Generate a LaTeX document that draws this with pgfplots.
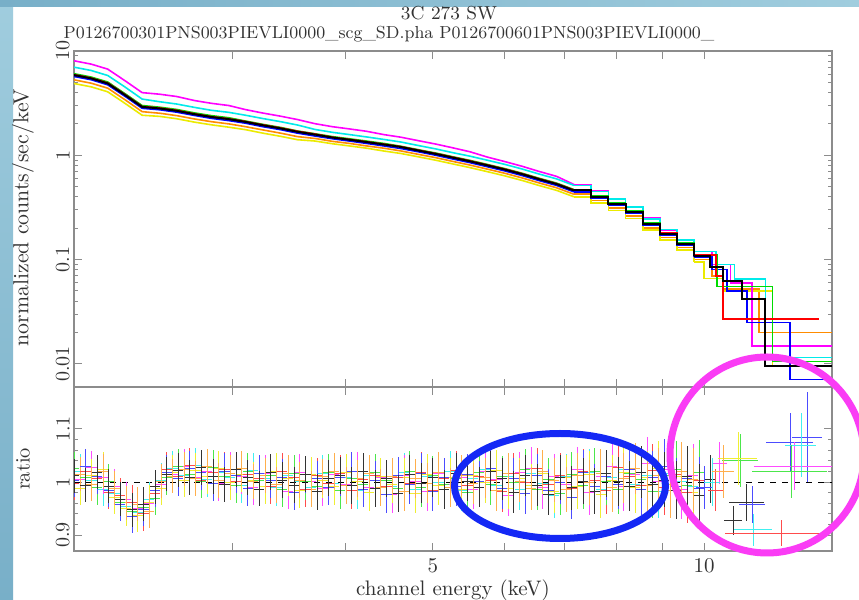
\documentclass[border=0pt]{standalone}
\usepackage{pgfplots}
\pgfplotsset{compat=1.18}
\usepackage{pgfplotstable}

\definecolor{pgK}{RGB}{0,0,0}
\definecolor{pgR}{RGB}{255,0,0}
\definecolor{pgG}{RGB}{0,220,0}
\definecolor{pgB}{RGB}{0,0,255}
\definecolor{pgC}{RGB}{0,235,235}
\definecolor{pgM}{RGB}{255,0,255}
\definecolor{pgY}{RGB}{235,235,0}
\definecolor{pgO}{RGB}{255,140,0}
\colorlet{rtK}{pgK!80!white}
\colorlet{rtR}{pgR!70!white}
\colorlet{rtG}{pgG!70!white}
\colorlet{rtB}{pgB!70!white}
\colorlet{rtC}{pgC!75!white}
\colorlet{rtM}{pgM!70!white}
\colorlet{rtY}{pgY!80!white}
\colorlet{rtO}{pgO!70!white}
\definecolor{bgblue}{RGB}{120,175,200}
\definecolor{bglight}{RGB}{160,205,222}
\definecolor{ellblue}{RGB}{20,40,245}
\definecolor{ellmag}{RGB}{250,60,245}
\definecolor{framegray}{RGB}{140,140,140}

\pgfplotstableread{
E     k     r     g     b     c     m     y     o
2.00  5.88  5.94  6.06  5.70  7.00  8.06  4.88  5.29
2.09  5.46  5.51  5.62  5.30  6.50  7.48  4.53  4.91
2.18  4.89  4.94  5.04  4.74  5.82  6.70  4.06  4.40
2.28  3.77  3.81  3.88  3.66  4.49  5.16  3.13  3.39
2.38  2.91  2.94  3.00  2.82  3.46  3.99  2.42  2.62
2.49  2.81  2.84  2.89  2.73  3.26  3.85  2.36  2.53
2.60  2.67  2.70  2.75  2.59  3.10  3.66  2.24  2.40
2.72  2.48  2.50  2.55  2.41  2.88  3.35  2.08  2.23
2.84  2.33  2.35  2.40  2.26  2.70  3.15  1.96  2.10
2.97  2.22  2.24  2.29  2.15  2.58  3.00  1.86  2.00
3.10  2.09  2.11  2.13  2.03  2.42  2.74  1.76  1.88
3.24  1.94  1.96  1.98  1.88  2.25  2.54  1.63  1.75
3.39  1.81  1.83  1.85  1.76  2.10  2.37  1.52  1.63
3.54  1.68  1.70  1.71  1.63  1.95  2.20  1.41  1.51
3.70  1.58  1.60  1.61  1.53  1.77  2.01  1.37  1.45
3.87  1.48  1.49  1.51  1.44  1.66  1.88  1.29  1.36
4.04  1.41  1.42  1.44  1.37  1.58  1.79  1.23  1.30
4.22  1.34  1.35  1.37  1.30  1.50  1.70  1.17  1.23
4.41  1.27  1.28  1.30  1.23  1.42  1.58  1.10  1.17
4.61  1.20  1.21  1.22  1.16  1.34  1.49  1.04  1.10
4.82  1.11  1.12  1.13  1.08  1.24  1.38  0.966 1.02
5.04  1.03  1.04  1.05  1.00  1.15  1.28  0.896 0.948
5.26  0.95  0.960 0.969 0.922 1.06  1.18  0.827 0.874
5.50  0.875 0.884 0.893 0.849 0.980 1.08  0.761 0.805
5.75  0.80  0.808 0.816 0.776 0.896 0.960 0.696 0.736
6.01  0.73  0.737 0.745 0.708 0.818 0.870 0.635 0.672
6.28  0.66  0.667 0.673 0.640 0.739 0.785 0.574 0.607
6.56  0.59  0.596 0.602 0.572 0.661 0.700 0.513 0.543
6.86  0.53  0.535 0.541 0.514 0.594 0.628 0.461 0.488
7.17  0.46  0.465 0.469 0.446 0.515 0.525 0.400 0.423
7.49  0.40  0.404 0.408 0.388 0.448 0.455 0.348 0.368
7.83  0.34  0.343 0.347 0.330 0.381 0.386 0.296 0.313
8.18  0.285 0.288 0.291 0.276 0.319 0.322 0.248 0.262
8.55  0.22  0.222 0.224 0.213 0.246 0.249 0.191 0.202
8.93  0.177 0.179 0.181 0.172 0.195 0.193 0.154 0.163
9.33  0.141 0.142 0.144 0.137 0.155 0.154 0.123 0.130
9.75  0.109 0.110 0.111 0.106 0.120 0.119 0.095 0.100
}\tabT

\pgfplotstableread{
E     ey    k     r     g     b
2.000 0.032 1.012 0.998 1.025 1.004
2.060 0.032 0.994 1.021 1.008 1.030
2.122 0.032 1.018 1.006 0.989 1.010
2.185 0.032 0.992 0.981 1.002 0.985
2.251 0.032 0.968 0.975 0.962 0.958
2.319 0.032 0.948 0.962 0.944 0.935
2.388 0.032 0.958 0.940 0.952 0.949
2.460 0.032 0.991 0.978 0.969 0.984
2.534 0.032 1.015 1.024 1.008 1.019
2.610 0.032 1.022 1.010 1.030 1.006
2.688 0.033 1.008 1.031 1.015 1.026
2.768 0.033 1.027 1.004 1.002 1.018
2.852 0.033 1.011 1.019 1.028 0.997
2.937 0.033 0.996 1.023 1.010 1.021
3.025 0.033 1.024 1.002 0.993 1.012
3.116 0.033 1.009 1.015 1.021 0.988
3.209 0.033 0.987 1.007 1.004 1.017
3.306 0.034 1.018 0.992 1.013 1.003
3.405 0.034 1.003 1.021 0.986 1.009
3.507 0.034 0.994 1.008 1.017 0.981
3.612 0.034 1.015 0.986 1.001 1.014
3.721 0.034 0.982 1.012 0.992 1.006
3.832 0.034 1.007 0.998 1.019 0.990
3.947 0.035 1.012 1.016 0.985 1.008
4.066 0.035 0.993 0.984 1.006 1.021
4.188 0.035 1.020 1.005 0.996 0.987
4.313 0.035 0.988 1.013 1.018 1.004
4.443 0.035 1.006 0.991 1.003 0.976
4.576 0.035 0.979 1.008 0.988 1.012
4.713 0.037 1.014 0.997 1.021 0.995
4.855 0.037 0.998 1.019 0.990 1.017
5.000 0.037 1.009 0.985 1.012 0.983
5.150 0.037 0.986 1.006 0.995 1.008
5.305 0.037 1.017 1.022 1.007 0.991
5.464 0.038 1.002 0.993 0.981 1.015
5.628 0.038 0.990 1.011 1.018 1.002
5.797 0.038 1.021 1.004 0.995 1.026
5.971 0.039 1.006 0.982 1.010 0.988
6.150 0.039 0.981 1.016 0.999 1.007
6.334 0.039 1.012 1.000 1.024 0.979
6.524 0.040 0.994 1.025 0.987 1.013
6.720 0.040 0.977 0.996 1.005 0.984
6.922 0.042 1.008 1.012 0.979 1.000
7.129 0.042 0.989 0.988 1.014 0.972
7.343 0.043 1.002 1.020 0.993 1.018
7.564 0.043 0.983 1.003 1.021 0.991
7.790 0.045 1.016 0.985 1.002 1.011
8.024 0.046 1.001 1.028 0.986 0.995
8.265 0.047 0.992 1.010 1.017 1.024
8.513 0.049 1.019 0.994 1.005 0.987
8.768 0.050 0.996 1.022 0.982 1.008
9.031 0.052 1.004 0.989 1.013 1.029
9.302 0.054 0.985 1.015 1.024 0.991
9.581 0.057 1.011 0.980 0.994 1.006
9.869 0.060 0.974 1.003 1.019 0.988
}\tabA

\pgfplotstableread{
E     ey    c     m     y     o
2.030 0.032 1.021 1.005 0.988 1.015
2.091 0.032 1.003 1.027 1.012 0.996
2.154 0.032 0.986 1.009 1.024 1.020
2.218 0.032 0.979 0.992 0.971 0.988
2.285 0.032 0.955 0.968 0.950 0.961
2.353 0.032 0.942 0.951 0.937 0.958
2.424 0.032 0.968 0.960 0.962 0.945
2.497 0.032 1.004 0.995 0.988 1.002
2.572 0.032 1.026 1.015 1.019 1.011
2.649 0.032 1.012 1.030 1.004 1.024
2.728 0.033 1.031 1.008 1.022 1.006
2.810 0.033 1.005 1.021 1.011 1.029
2.894 0.033 1.018 0.997 1.026 1.003
2.981 0.033 1.009 1.024 0.999 1.017
3.070 0.033 0.994 1.011 1.015 1.025
3.162 0.033 1.022 0.990 1.004 1.001
3.257 0.033 1.006 1.017 0.991 1.012
3.355 0.034 0.989 1.004 1.020 0.995
3.456 0.034 1.013 0.983 1.007 1.016
3.559 0.034 1.001 1.019 0.985 1.004
3.666 0.034 0.990 1.002 1.014 0.987
3.776 0.034 1.016 0.988 1.003 1.010
3.889 0.034 0.997 1.014 0.991 1.021
4.006 0.035 1.008 0.995 1.018 0.994
4.126 0.035 0.985 1.021 1.002 1.007
4.250 0.035 1.012 0.990 0.980 1.016
4.378 0.035 1.003 1.008 1.011 0.989
4.509 0.035 0.991 0.977 0.996 1.011
4.644 0.037 1.018 1.013 1.009 0.982
4.784 0.037 0.986 1.001 0.978 1.006
4.927 0.037 1.010 0.983 1.015 0.998
5.075 0.037 0.999 1.017 0.994 1.019
5.227 0.037 1.021 0.995 1.008 0.990
5.384 0.038 0.984 1.009 0.986 1.012
5.546 0.038 1.007 0.987 1.013 0.997
5.712 0.038 1.024 1.020 0.999 1.008
5.883 0.039 0.993 1.005 1.022 0.984
6.060 0.039 1.011 0.974 0.988 1.016
6.242 0.039 0.987 1.018 1.006 1.002
6.429 0.040 1.016 1.026 0.994 0.988
6.622 0.040 0.998 0.989 1.017 1.021
6.821 0.042 0.975 1.011 0.983 1.004
7.025 0.042 1.010 0.996 1.008 0.986
7.236 0.043 0.992 1.023 0.992 1.012
7.453 0.043 1.019 0.981 1.015 0.999
7.677 0.045 0.986 1.010 0.977 1.017
7.907 0.046 1.008 1.030 1.004 0.990
8.144 0.047 1.023 0.992 1.019 1.007
8.388 0.048 0.995 1.015 0.990 1.026
8.640 0.050 1.012 1.035 1.008 0.994
8.899 0.051 0.983 1.002 1.026 1.013
9.166 0.053 1.017 1.024 0.995 0.985
9.441 0.056 1.002 0.986 1.011 1.020
9.724 0.059 0.991 1.012 0.981 1.005
}\tabB

\begin{document}
\begin{tikzpicture}
\useasboundingbox (0,0) rectangle (429.5pt,300pt);
\fill[white] (0,0) rectangle (429.5pt,300pt);
\shade[top color=bglight, bottom color=bgblue] (0,0) rectangle (6.5pt,300pt);
\shade[left color=bgblue, right color=bglight] (0,296.5pt) rectangle (429.5pt,300pt);

% ---------------- upper panel ----------------
\begin{axis}[at={(37pt,106.5pt)}, anchor=south west,
  scale only axis, width=379pt, height=168pt,
  xmode=log, ymode=log,
  xmin=2, xmax=13.86, ymin=0.0060, ymax=10,
  axis line style={draw=framegray, line width=0.6pt},
  tick style={draw=framegray, line width=0.5pt},
  major tick length=4pt, minor tick length=2pt,
  xtick={2,3,4,5,6,7,8,9,10}, xticklabels={},
  ytick={0.01,0.1,1,10}, yticklabels={0.01,0.1,1,10},
  tick label style={font=\fontsize{10}{12}\selectfont, text=black!80},
  yticklabel style={rotate=90, anchor=south, inner sep=2pt},
]
% orange
\addplot[line width=0.8pt, color=pgO, mark=none, skip coords between index={30}{37}] table[x=E,y=o] {\tabT};
\addplot[const plot, line width=0.8pt, color=pgO, mark=none, skip coords between index={0}{29}] table[x=E,y=o] {\tabT};
\addplot[const plot, line width=0.8pt, color=pgO, mark=none] coordinates {(9.75,0.100) (10.2,0.070) (10.49,0.052) (11.5,0.020) (13.86,0.020)};
% yellow
\addplot[line width=0.8pt, color=pgY, mark=none, skip coords between index={30}{37}] table[x=E,y=y] {\tabT};
\addplot[const plot, line width=0.8pt, color=pgY, mark=none, skip coords between index={0}{29}] table[x=E,y=y] {\tabT};
\addplot[const plot, line width=0.8pt, color=pgY, mark=none] coordinates {(9.75,0.095) (10.0,0.066) (10.49,0.050) (11.9,0.0095) (13.86,0.0095)};
% magenta
\addplot[line width=0.8pt, color=pgM, mark=none, skip coords between index={30}{37}] table[x=E,y=m] {\tabT};
\addplot[const plot, line width=0.8pt, color=pgM, mark=none, skip coords between index={0}{29}] table[x=E,y=m] {\tabT};
\addplot[const plot, line width=0.8pt, color=pgM, mark=none] coordinates {(9.75,0.119) (10.2,0.090) (10.7,0.060) (11.3,0.0149) (13.86,0.0149)};
% cyan
\addplot[line width=0.8pt, color=pgC, mark=none, skip coords between index={30}{37}] table[x=E,y=c] {\tabT};
\addplot[const plot, line width=0.8pt, color=pgC, mark=none, skip coords between index={0}{29}] table[x=E,y=c] {\tabT};
\addplot[const plot, line width=0.8pt, color=pgC, mark=none] coordinates {(9.75,0.120) (10.3,0.090) (10.8,0.065) (11.7,0.0115) (13.86,0.0115)};
% blue
\addplot[line width=0.8pt, color=pgB, mark=none, skip coords between index={30}{37}] table[x=E,y=b] {\tabT};
\addplot[const plot, line width=0.8pt, color=pgB, mark=none, skip coords between index={0}{29}] table[x=E,y=b] {\tabT};
\addplot[const plot, line width=0.8pt, color=pgB, mark=none] coordinates {(9.75,0.106) (10.2,0.080) (10.6,0.050) (11.16,0.025) (12.45,0.0071) (13.86,0.0071)};
% green
\addplot[line width=0.8pt, color=pgG, mark=none, skip coords between index={30}{37}] table[x=E,y=g] {\tabT};
\addplot[const plot, line width=0.8pt, color=pgG, mark=none, skip coords between index={0}{29}] table[x=E,y=g] {\tabT};
\addplot[const plot, line width=0.8pt, color=pgG, mark=none] coordinates {(9.75,0.111) (10.33,0.055) (11.9,0.0105) (13.86,0.0105)};
% red
\addplot[line width=0.8pt, color=pgR, mark=none, skip coords between index={30}{37}] table[x=E,y=r] {\tabT};
\addplot[const plot, line width=0.8pt, color=pgR, mark=none, skip coords between index={0}{29}] table[x=E,y=r] {\tabT};
\addplot[const plot, line width=0.8pt, color=pgR, mark=none] coordinates {(9.75,0.110) (10.3,0.070) (10.49,0.027) (13.4,0.027)};
% black
\addplot[line width=1pt, color=pgK, mark=none, skip coords between index={30}{37}] table[x=E,y=k] {\tabT};
\addplot[const plot, line width=1pt, color=pgK, mark=none, skip coords between index={0}{29}] table[x=E,y=k] {\tabT};
\addplot[const plot, line width=1pt, color=pgK, mark=none] coordinates {(9.75,0.109) (10.15,0.085) (10.49,0.063) (11.0,0.042) (11.68,0.0095) (13.86,0.0095)};
\end{axis}

% ---------------- ratio panel ----------------
\begin{axis}[at={(37pt,24.5pt)}, anchor=south west,
  scale only axis, width=379pt, height=82pt,
  xmode=log, xmin=2, xmax=13.86, ymin=0.870, ymax=1.179,
  axis line style={draw=framegray, line width=0.6pt},
  tick style={draw=framegray, line width=0.5pt},
  major tick length=4pt, minor tick length=2pt,
  xtick={2,3,4,5,6,7,8,9,10}, xticklabels={,,,5,,,,,10},
  ytick={0.9,1,1.1}, yticklabels={0.9,1,1.1}, minor y tick num=4,
  tick label style={font=\fontsize{10}{12}\selectfont, text=black!80},
  xticklabel style={font=\fontsize{10.5}{12}\selectfont},
  yticklabel style={rotate=90, anchor=south, inner sep=2pt},
]
\addplot[color=black, dashed, line width=0.5pt, mark=none] coordinates {(2,1) (13.86,1)};
\addplot[draw=none, mark=none, error bars/.cd, x dir=both, x fixed relative=0.013, y dir=both, y explicit, error mark=none, error bar style={draw=rtC, line width=0.35pt}] table[x=E,y=c,y error=ey] {\tabB};
\addplot[draw=none, mark=none, error bars/.cd, x dir=both, x fixed relative=0.013, y dir=both, y explicit, error mark=none, error bar style={draw=rtM, line width=0.35pt}] table[x=E,y=m,y error=ey] {\tabB};
\addplot[draw=none, mark=none, error bars/.cd, x dir=both, x fixed relative=0.013, y dir=both, y explicit, error mark=none, error bar style={draw=rtY, line width=0.35pt}] table[x=E,y=y,y error=ey] {\tabB};
\addplot[draw=none, mark=none, error bars/.cd, x dir=both, x fixed relative=0.013, y dir=both, y explicit, error mark=none, error bar style={draw=rtO, line width=0.35pt}] table[x=E,y=o,y error=ey] {\tabB};
\addplot[draw=none, mark=none, error bars/.cd, x dir=both, x fixed relative=0.013, y dir=both, y explicit, error mark=none, error bar style={draw=rtR, line width=0.35pt}] table[x=E,y=r,y error=ey] {\tabA};
\addplot[draw=none, mark=none, error bars/.cd, x dir=both, x fixed relative=0.013, y dir=both, y explicit, error mark=none, error bar style={draw=rtG, line width=0.35pt}] table[x=E,y=g,y error=ey] {\tabA};
\addplot[draw=none, mark=none, error bars/.cd, x dir=both, x fixed relative=0.013, y dir=both, y explicit, error mark=none, error bar style={draw=rtB, line width=0.35pt}] table[x=E,y=b,y error=ey] {\tabA};
\addplot[draw=none, mark=none, error bars/.cd, x dir=both, x fixed relative=0.013, y dir=both, y explicit, error mark=none, error bar style={draw=rtK, line width=0.35pt}] table[x=E,y=k,y error=ey] {\tabA};
\addplot[draw=none, mark=none, error bars/.cd, x dir=both, x explicit, y dir=both, y explicit, error mark=none, error bar style={draw=rtK, line width=0.35pt}] coordinates {(10.15,1.005) +- (0.15,0.045) (10.77,0.928) +- (0.25,0.027) (11.15,0.962) +- (0.5,0.035)};
\addplot[draw=none, mark=none, error bars/.cd, x dir=both, x explicit, y dir=both, y explicit, error mark=none, error bar style={draw=rtB, line width=0.35pt}] coordinates {(10.0,0.990) +- (0.2,0.04) (11.3,0.957) +- (0.37,0.035) (12.45,1.075) +- (0.75,0.055) (13.0,1.085) +- (0.5,0.085)};
\addplot[draw=none, mark=none, error bars/.cd, x dir=both, x explicit, y dir=both, y explicit, error mark=none, error bar style={draw=rtM, line width=0.35pt}] coordinates {(10.4,1.036) +- (0.2,0.04) (12.6,1.030) +- (1.25,0.045)};
\addplot[draw=none, mark=none, error bars/.cd, x dir=both, x explicit, y dir=both, y explicit, error mark=none, error bar style={draw=rtC, line width=0.35pt}] coordinates {(10.2,1.000) +- (0.2,0.045) (11.35,0.910) +- (0.55,0.03) (12.8,1.070) +- (0.5,0.06)};
\addplot[draw=none, mark=none, error bars/.cd, x dir=both, x explicit, y dir=both, y explicit, error mark=none, error bar style={draw=rtR, line width=0.35pt}] coordinates {(10.3,0.985) +- (0.2,0.04) (12.17,0.904) +- (1.62,0.025)};
\addplot[draw=none, mark=none, error bars/.cd, x dir=both, x explicit, y dir=both, y explicit, error mark=none, error bar style={draw=rtG, line width=0.35pt}] coordinates {(10.97,1.040) +- (0.5,0.05) (12.5,1.020) +- (1.2,0.05)};
\addplot[draw=none, mark=none, error bars/.cd, x dir=both, x explicit, y dir=both, y explicit, error mark=none, error bar style={draw=rtY, line width=0.35pt}] coordinates {(10.9,1.045) +- (0.55,0.05)};
\addplot[draw=none, mark=none, error bars/.cd, x dir=both, x explicit, y dir=both, y explicit, error mark=none, error bar style={draw=rtO, line width=0.35pt}] coordinates {(10.5,1.020) +- (0.3,0.05)};
\end{axis}

\node[font=\fontsize{9.4}{11}\selectfont, text=black!80] at (224.5pt,293.5pt) {3C 273 SW};
\node[font=\fontsize{8.7}{11}\selectfont, text=black!80] at (194.5pt,283pt) {P0126700301PNS003PIEVLI0000\_scg\_SD.pha P0126700601PNS003PIEVLI0000\_};
\node[font=\fontsize{10.9}{12}\selectfont, text=black!80, rotate=90] at (11.5pt,191.25pt) {normalized counts/sec/keV};
\node[font=\fontsize{10.2}{12}\selectfont, text=black!80, rotate=90] at (11.5pt,65.5pt) {ratio};
\node[font=\fontsize{10.5}{12}\selectfont, text=black!80] at (226.5pt,5pt) {channel energy (keV)};

\draw[ellblue, line width=3.5pt] (280pt,57pt) ellipse [x radius=52.75pt, y radius=26.25pt];
\draw[ellmag, line width=3.5pt] (383.5pt,72.5pt) ellipse [x radius=48.5pt, y radius=49pt];
\end{tikzpicture}
\end{document}
